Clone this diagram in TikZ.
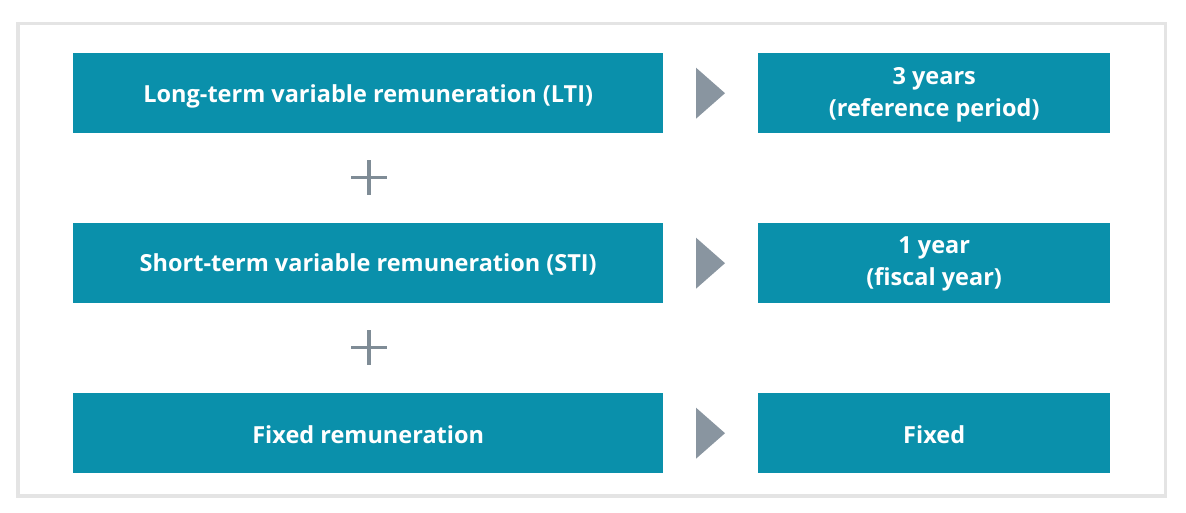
\documentclass[tikz,border=0pt]{standalone}
\usepackage{fontspec}
\setmainfont{Open Sans}
\begin{document}
\begin{tikzpicture}[x=1pt,y=1pt,
  box/.style={fill=teal0, inner sep=0pt, anchor=north west, minimum height=80pt},
  lbl/.style={text=white, font=\bfseries\fontsize{23.5}{32}\selectfont, align=center, inner sep=0pt, anchor=base},
  plussign/.style={draw=grayp, line width=3.5pt}]
\definecolor{teal0}{HTML}{0A90AB}
\definecolor{grayb}{HTML}{8995A0}
\definecolor{grayp}{HTML}{7F8C96}
\definecolor{frame}{HTML}{E4E4E4}
\useasboundingbox (0,0) rectangle (1186,513);
\draw[frame, line width=3.5pt] (17.75,513-23.75) rectangle (1165.25,513-496.25);
% left boxes
\node[box, minimum width=590pt] (lti) at (73,513-53) {};
\node[box, minimum width=590pt] (sti) at (73,513-223) {};
\node[box, minimum width=590pt] (fix) at (73,513-393) {};
% right boxes
\node[box, minimum width=352pt] (r1) at (758,513-53) {};
\node[box, minimum width=352pt] (r2) at (758,513-223) {};
\node[box, minimum width=352pt] (r3) at (758,513-393) {};
% labels
\node[lbl] (tlti) at ([yshift=-50pt]lti.north) {Long-term variable remuneration (LTI)};
\node[lbl] (tsti) at ([yshift=-49pt]sti.north) {Short-term variable remuneration (STI)};
\node[lbl] (tfix) at ([yshift=-51pt]fix.north) {Fixed remuneration};
\node[lbl] (tr1) at ([yshift=-63.5pt]r1.north) {3 years\\(reference period)};
\node[lbl] (tr2) at ([yshift=-63pt]r2.north) {1 year\\(fiscal year)};
\node[lbl] (tr3) at ([yshift=-51pt]r3.north) {Fixed};
% triangles
\foreach \n in {r1,r2,r3}{
  \fill[grayb] ([xshift=-62pt,yshift=25.5pt]\n.west) -- ([xshift=-33pt]\n.west) -- ([xshift=-62pt,yshift=-25.5pt]\n.west) -- cycle;
}
% plus signs
\coordinate (p1) at (369,513-177.5);
\coordinate (p2) at (369,513-347.5);
\foreach \p in {p1,p2}{
  \draw[plussign] ([xshift=-18pt]\p) -- ([xshift=18pt]\p);
  \draw[plussign] ([yshift=-17.5pt]\p) -- ([yshift=17.5pt]\p);
}
\end{tikzpicture}
\end{document}
